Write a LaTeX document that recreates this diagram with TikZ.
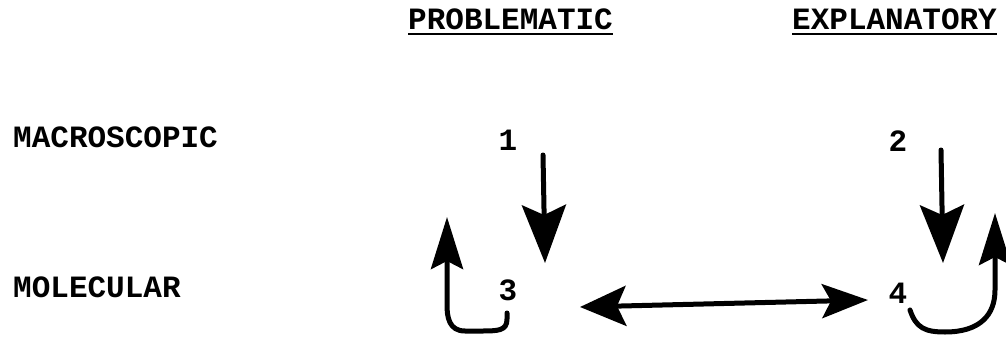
\documentclass[tikz,border=0pt]{standalone}
\usepackage{fontspec}
\setmonofont{Liberation Mono}
\usetikzlibrary{arrows.meta}
\tikzset{
  txt/.style={inner sep=0pt, font=\fontsize{31}{36}\selectfont\ttfamily\bfseries},
  conn/.style={line width=5pt, line cap=round},
  bighead/.style={-{Stealth[length=58pt,width=44pt,inset=10pt]}},
  loophead/.style={-{Stealth[length=52pt,width=32pt,inset=8pt]}},
  dblhead/.style={{Stealth[length=46pt,width=40pt,inset=9pt]}-{Stealth[length=46pt,width=34pt,inset=9pt]}},
  ul/.style={line width=2pt}
}
\begin{document}
\begin{tikzpicture}[x=1pt,y=-1pt]
\useasboundingbox (0,0) rectangle (1006,337);
% headers
\node[txt,anchor=base west] (ph) at (408,30) {PROBLEMATIC};
\node[txt,anchor=base west] (eh) at (792,30) {EXPLANATORY};
\draw[ul] ([yshift=-4pt]ph.base west) -- ([yshift=-4pt]ph.base east);
\draw[ul] ([yshift=-4pt]eh.base west) -- ([yshift=-4pt]eh.base east);
% row labels
\node[txt,anchor=base west] (mac) at (13,147) {MACROSCOPIC};
\node[txt,anchor=base west] (mol) at (13,297) {MOLECULAR};
% numbers
\node[txt,anchor=base] (n1) at (508,150) {1};
\node[txt,anchor=base] (n2) at (898,151) {2};
\node[txt,anchor=base] (n3) at (508,300) {3};
\node[txt,anchor=base] (n4) at (898,303) {4};
% arrow endpoints
\coordinate (a1s) at (543,155);
\coordinate (a1e) at (545,263);
\coordinate (a2s) at (941,150);
\coordinate (a2e) at (943,263);
\coordinate (l3s) at (507,313);
\coordinate (l3e) at (447,217);
\coordinate (l4s) at (910,310);
\coordinate (l4e) at (995,213);
\coordinate (dl) at (580,307);
\coordinate (dr) at (868,300);
% arrows
\draw[conn,bighead] (a1s) -- (a1e);
\draw[conn,bighead] (a2s) -- (a2e);
\draw[conn,loophead] (l3s) -- ++(0,6) .. controls ++(0,12) and ++(18,0) .. (480,331) -- (465,331) .. controls ++(-16,0) and ++(0,12) .. (447,305) -- (l3e);
\draw[conn,loophead] (l4s) .. controls ++(6,18) and ++(-20,0) .. (945,332) .. controls ++(35,0) and ++(0,25) .. (995,290) -- (l4e);
\draw[conn,dblhead] (dl) -- (dr);
\end{tikzpicture}
\end{document}
